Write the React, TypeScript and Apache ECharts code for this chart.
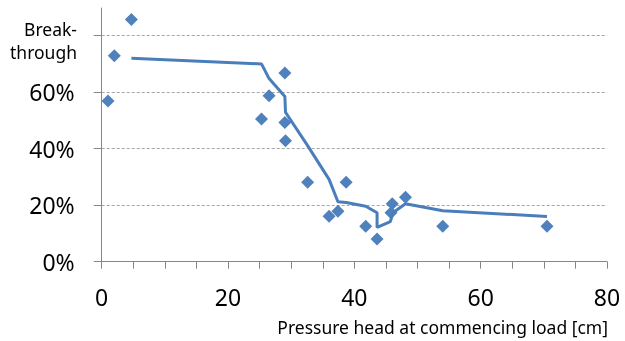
import React, { useEffect, useRef } from 'react';
import * as echarts from 'echarts';

// Tick labels
const xTickValues = [0, 20, 40, 60, 80];
const yTickLabels = ['0%', '20%', '40%', '60%'];

// Measured points (pressure head [cm], breakthrough [%])
const pointX = [1.0, 2.0, 4.7, 25.3, 26.5, 29.0, 29.0, 29.1, 32.6, 36.0, 37.4, 38.7, 41.8, 43.6, 45.8, 46.0, 48.1, 54.0, 70.5];
const pointY = [56.8, 72.8, 85.6, 50.4, 58.6, 66.7, 49.2, 42.7, 28.1, 16.1, 17.8, 28.1, 12.5, 8.0, 17.3, 20.5, 22.8, 12.5, 12.5];

// Trend line (moving average)
const trendX = [4.7, 25.3, 26.5, 29.0, 29.1, 32.6, 36.0, 37.4, 38.7, 41.8, 43.6, 43.6, 45.7, 46.1, 48.1, 54.0, 70.5];
const trendY = [71.9, 69.9, 64.7, 58.4, 52.8, 41.0, 29.1, 21.2, 20.9, 19.6, 17.3, 12.1, 14.2, 17.3, 20.5, 18.0, 16.0];

const yAxisTitle = 'Break-\nthrough';
const xAxisTitle = 'Pressure head at commencing load [cm]';

export default function App() {
  const ref = useRef<HTMLDivElement>(null);
  useEffect(() => {
    document.body.style.margin = '0';
    const chart = echarts.init(ref.current!, null, { renderer: 'svg' });
    const font = 'Noto Sans';
    const axisColor = '#868686';
    const blue = '#4F81BD';
    chart.setOption({
      animation: false,
      grid: [
        { left: 101.7, right: 18, top: 8, bottom: 79.3 },
        { left: 101.7, right: 18, top: 35.3, bottom: 79.3 },
      ],
      xAxis: [
        { gridIndex: 0, type: 'value', min: 0, max: 80, show: false },
        {
          gridIndex: 1,
          type: 'value',
          min: 0,
          max: 80,
          interval: 5,
          axisLine: { show: true, onZero: false, lineStyle: { color: axisColor, width: 1 } },
          axisTick: { show: true, length: 7, lineStyle: { color: axisColor } },
          axisLabel: {
            margin: 24,
            fontSize: 23,
            fontFamily: font,
            color: '#000',
            formatter: (v: number) => (xTickValues.indexOf(v) >= 0 ? String(v) : ''),
          },
          splitLine: { show: false },
        },
      ],
      yAxis: [
        {
          gridIndex: 0,
          type: 'value',
          min: 0,
          max: 90,
          axisLine: { show: true, onZero: false, lineStyle: { color: axisColor, width: 1 } },
          axisTick: { show: false },
          axisLabel: { show: false },
          splitLine: { show: false },
        },
        {
          gridIndex: 1,
          type: 'value',
          min: 0,
          max: 80,
          interval: 20,
          axisLine: { show: false },
          axisTick: { show: true, length: 8, lineStyle: { color: axisColor } },
          axisLabel: {
            margin: 27,
            fontSize: 23,
            fontFamily: font,
            color: '#000',
            formatter: (v: number) => yTickLabels[Math.round(v / 20)] ?? '',
          },
          splitLine: { show: true, showMinLine: false, lineStyle: { color: '#A6A6A6', type: [3, 2], width: 1 } },
        },
      ],
      series: [
        {
          type: 'scatter',
          xAxisIndex: 1,
          yAxisIndex: 1,
          clip: false,
          symbol: 'diamond',
          symbolSize: 13,
          itemStyle: { color: blue, opacity: 1 },
          data: pointX.map((x, i) => [x, pointY[i]]),
        },
        {
          type: 'line',
          xAxisIndex: 1,
          yAxisIndex: 1,
          clip: false,
          showSymbol: false,
          symbol: 'none',
          lineStyle: { color: '#4A7EBB', width: 3 },
          data: trendX.map((x, i) => [x, trendY[i]]),
        },
      ],
      graphic: [
        {
          type: 'text',
          x: 77,
          y: 17.5,
          style: {
            text: yAxisTitle,
            align: 'right',
            verticalAlign: 'top',
            fontSize: 17.5,
            lineHeight: 23,
            fontFamily: font,
            fill: '#000',
          },
        },
        {
          type: 'text',
          x: 608,
          y: 327,
          style: {
            text: xAxisTitle,
            align: 'right',
            verticalAlign: 'middle',
            fontSize: 17.5,
            fontFamily: font,
            fill: '#000',
          },
        },
      ],
    });
    return () => chart.dispose();
  }, []);
  return <div ref={ref} style={{ position: 'fixed', left: 0, top: 0, width: 625, height: 341 }} />;
}
